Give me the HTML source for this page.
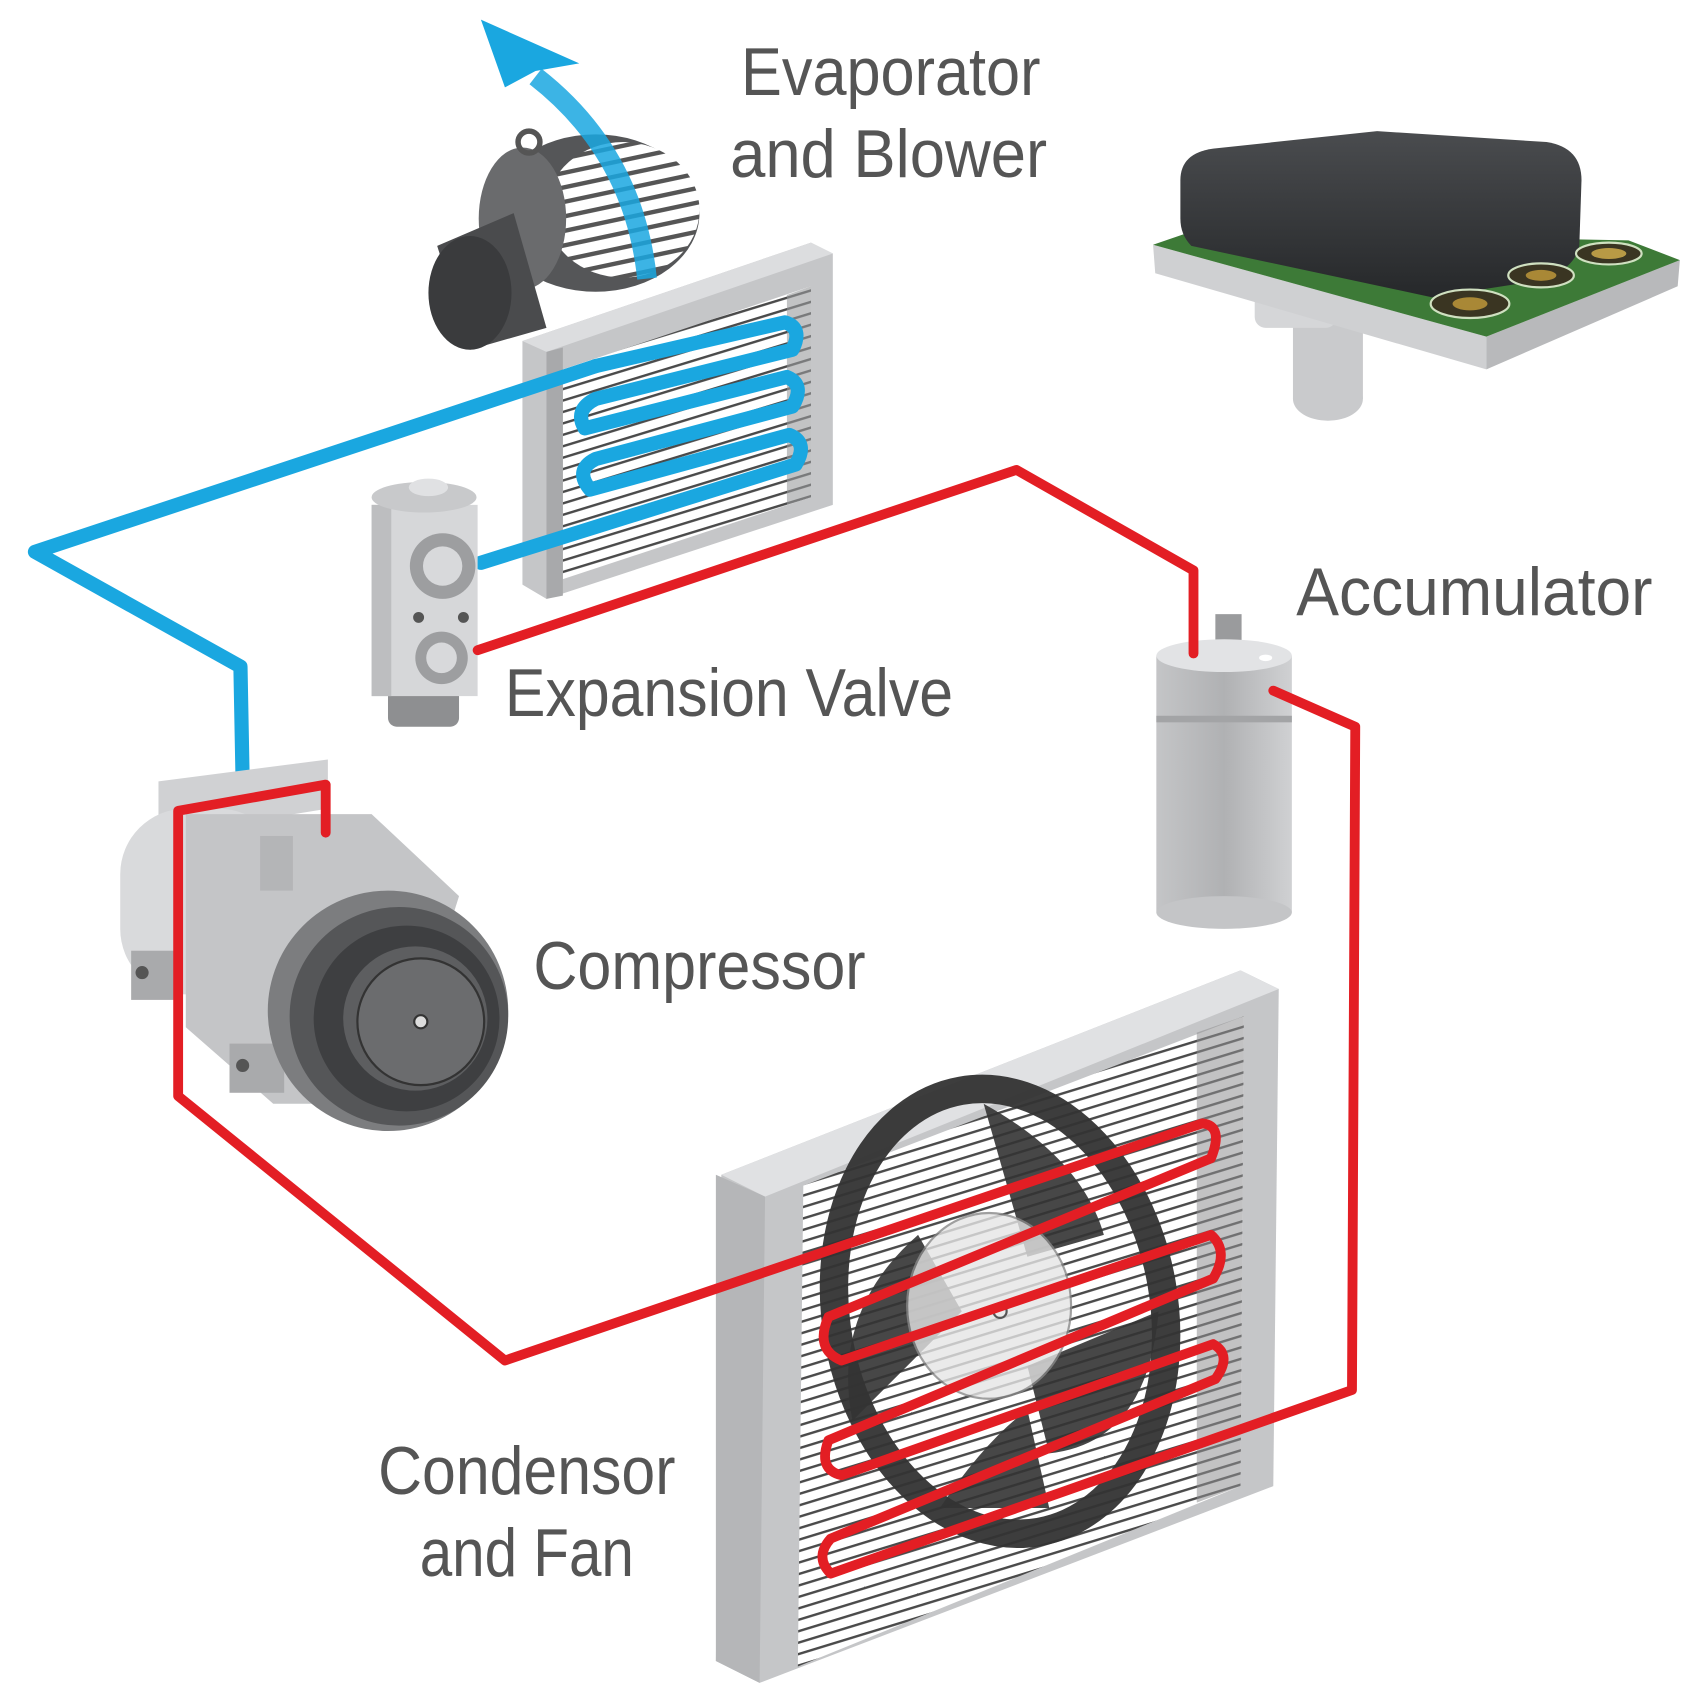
<!DOCTYPE html>
<html><head><meta charset="utf-8"><style>
html,body{margin:0;padding:0;background:#fff}
svg{display:block}
text{font-family:"Liberation Sans Narrow","Liberation Sans",sans-serif;fill:#555;font-size:62px}
</style></head><body>
<svg width="1705" height="1696" viewBox="0 0 1560 1552" preserveAspectRatio="none" xmlns="http://www.w3.org/2000/svg">
<defs>
<linearGradient id="blk" x1="0" y1="0" x2="0" y2="1"><stop offset="0" stop-color="#4a4c4f"/><stop offset="1" stop-color="#26282a"/></linearGradient>
<linearGradient id="acc" x1="0" y1="0" x2="1" y2="0"><stop offset="0" stop-color="#c4c5c7"/><stop offset="0.5" stop-color="#b0b1b3"/><stop offset="1" stop-color="#d0d1d3"/></linearGradient>
<pattern id="fins" width="10" height="10" patternUnits="userSpaceOnUse" patternTransform="rotate(-17)"><rect width="10" height="10" fill="#fff"/><rect y="0" width="10" height="2.2" fill="#4a4a4a"/></pattern>
<pattern id="fins2" width="14" height="13" patternUnits="userSpaceOnUse" patternTransform="rotate(-12)"><rect width="14" height="13" fill="#fff"/><rect y="0" width="14" height="4" fill="#555"/></pattern>
</defs>

<!-- Sensor -->
<rect x="1183" y="270" width="64" height="95" fill="#c9cacc"/>
<ellipse cx="1215" cy="365" rx="32" ry="20" fill="#c9cacc"/>
<rect x="1148" y="265" width="75" height="35" rx="10" fill="#d5d6d8"/>
<polygon points="1055,224 1360,308 1360,338 1057,250" fill="#cfd0d2"/>
<polygon points="1360,308 1537,238 1535,262 1360,338" fill="#b8b9bb"/>
<polygon points="1055,224 1090,212 1490,220 1537,238 1360,308" fill="#3d7a37"/>
<path d="M1080,165 Q1080,140 1110,136 L1260,120 L1415,130 Q1447,135 1447,165 L1445,225 Q1440,250 1400,258 L1310,272 L1090,225 Q1080,215 1080,200 Z" fill="url(#blk)"/>
<ellipse cx="1472" cy="232" rx="30" ry="10" fill="#3a3522" stroke="#cfe0c0" stroke-width="2"/>
<ellipse cx="1472" cy="232" rx="16" ry="5" fill="#b89a45"/>
<ellipse cx="1410" cy="252" rx="30" ry="11" fill="#3a3522" stroke="#cfe0c0" stroke-width="2"/>
<ellipse cx="1410" cy="252" rx="14" ry="5" fill="#a98836"/>
<ellipse cx="1345" cy="278" rx="36" ry="13" fill="#3a3522" stroke="#cfe0c0" stroke-width="2"/>
<ellipse cx="1345" cy="278" rx="16" ry="6" fill="#a98836"/>

<!-- Blower -->
<ellipse cx="545" cy="195" rx="95" ry="72" fill="#555658"/>
<ellipse cx="570" cy="192" rx="70" ry="62" fill="url(#fins2)"/>
<ellipse cx="478" cy="200" rx="40" ry="65" fill="#6a6b6d"/>
<path d="M400,225 L470,195 L500,300 L430,320 Z" fill="#4a4b4d"/>
<ellipse cx="430" cy="268" rx="38" ry="52" fill="#3a3b3d"/>
<circle cx="484" cy="130" r="10" fill="none" stroke="#555" stroke-width="5"/>
<!-- blue air arrow -->
<path d="M592,255 Q580,140 490,70" fill="none" stroke="#1aa7e0" stroke-width="18" opacity="0.85"/>
<polygon points="440,18 530,58 490,65 462,80" fill="#1aa7e0"/>

<!-- Evaporator -->
<polygon points="478,312 742,222 762,232 762,462 500,548 478,535" fill="#c5c6c8"/>
<polygon points="478,312 742,222 762,232 500,322" fill="#dcdddf"/>
<polygon points="515,338 742,262 742,455 515,530" fill="url(#fins)"/>
<polygon points="720,270 742,262 742,455 720,462" fill="#9a9b9d" opacity="0.6"/>
<polygon points="500,322 515,318 515,545 500,548" fill="#a8a9ab"/>

<!-- Blue lines -->
<g fill="none" stroke="#1aa7e0" stroke-width="13" stroke-linejoin="round" stroke-linecap="round">
<path d="M222,715 L220,610 L32,505 L545,335"/>
<path d="M545,335 L718,295 Q735,300 725,320 L545,365 Q525,375 535,392 L720,345 Q737,352 725,372 L545,420 Q525,430 540,448 L722,398 Q740,405 728,425 L440,515"/>
</g>

<!-- Expansion valve -->
<rect x="355" y="600" width="65" height="65" rx="8" fill="#8e8f91"/>
<rect x="340" y="462" width="97" height="175" fill="#d6d7d9"/>
<rect x="340" y="462" width="18" height="175" fill="#bdbec0"/>
<ellipse cx="388" cy="455" rx="48" ry="14" fill="#c8c9cb"/>
<ellipse cx="392" cy="446" rx="18" ry="8" fill="#e0e1e3"/>
<circle cx="405" cy="518" r="30" fill="#9d9ea0"/><circle cx="405" cy="518" r="18" fill="#d8d9db"/>
<circle cx="404" cy="602" r="24" fill="#9d9ea0"/><circle cx="404" cy="602" r="14" fill="#d8d9db"/>
<circle cx="383" cy="565" r="5" fill="#555"/><circle cx="424" cy="565" r="5" fill="#555"/>

<!-- Accumulator -->
<rect x="1112" y="562" width="24" height="38" fill="#9a9b9d"/>
<rect x="1058" y="600" width="124" height="235" fill="url(#acc)"/>
<ellipse cx="1120" cy="835" rx="62" ry="15" fill="#c4c5c7"/>
<ellipse cx="1120" cy="600" rx="62" ry="15" fill="#e2e3e5"/>
<rect x="1058" y="655" width="124" height="6" fill="#a3a4a6"/>
<ellipse cx="1158" cy="602" rx="6" ry="3" fill="#fff"/>

<!-- Compressor -->
<polygon points="145,715 300,695 300,740 145,765" fill="#d0d1d3"/>
<rect x="110" y="740" width="150" height="170" rx="60" fill="#d9dadc"/>
<polygon points="170,745 340,745 420,820 360,1010 250,1010 170,940" fill="#c4c5c7"/>
<rect x="238" y="765" width="30" height="50" fill="#b4b5b7"/>
<rect x="120" y="870" width="40" height="45" fill="#a9aaac"/><circle cx="130" cy="890" r="6" fill="#555"/>
<rect x="210" y="955" width="50" height="45" fill="#a9aaac"/><circle cx="222" cy="975" r="6" fill="#555"/>
<circle cx="355" cy="925" r="110" fill="#7c7d7f"/>
<circle cx="365" cy="930" r="100" fill="#555658"/>
<circle cx="372" cy="932" r="85" fill="#3e3f41"/>
<circle cx="380" cy="932" r="66" fill="#5d5e60"/>
<circle cx="385" cy="935" r="58" fill="#6b6c6e" stroke="#333" stroke-width="2"/>
<circle cx="385" cy="935" r="6" fill="#ddd" stroke="#333" stroke-width="2"/>

<!-- Condenser -->
<polygon points="660,1075 1135,888 1170,905 1165,1360 695,1540 655,1520" fill="#c5c6c8"/>
<polygon points="660,1075 1135,888 1170,905 700,1095" fill="#e0e1e3"/>
<polygon points="735,1085 1138,930 1135,1360 730,1525" fill="url(#fins)"/>
<polygon points="655,1075 700,1095 695,1540 655,1520" fill="#b5b6b8"/>
<polygon points="1095,945 1138,930 1135,1360 1095,1375" fill="#8f9092" opacity="0.55"/>
<!-- fan -->
<g fill="none" stroke="#333" stroke-width="26" opacity="0.95">
<ellipse cx="915" cy="1200" rx="150" ry="205" transform="rotate(-10 915 1200)"/>
</g>
<path d="M900,1010 Q990,1060 1010,1130 L940,1150 Z M1060,1200 Q1050,1320 960,1330 L940,1250 Z M780,1300 Q760,1200 840,1130 L880,1200 Z M860,1380 Q900,1320 940,1290 L960,1380 Z" fill="#333" opacity="0.9"/>
<ellipse cx="905" cy="1195" rx="75" ry="85" fill="#e5e5e5" opacity="0.8" stroke="#888" stroke-width="2"/>
<circle cx="915" cy="1200" r="6" fill="none" stroke="#555" stroke-width="2"/>

<!-- Red lines -->
<g fill="none" stroke="#e31e24" stroke-width="9" stroke-linejoin="round" stroke-linecap="round">
<path d="M437,595 L930,430 L1092,522 L1092,598"/>
<path d="M1165,632 L1240,665 L1237,1272 L760,1440 Q745,1425 760,1408 L1112,1262 Q1128,1240 1110,1230 L770,1350 Q748,1345 758,1318 L1110,1170 Q1125,1145 1108,1130 L770,1245 Q745,1235 758,1205 L1108,1060 Q1120,1030 1100,1028 L462,1245 L163,1003 L163,742 L298,718 L298,762"/>
</g>

<!-- Labels -->
<text x="678" y="87" textLength="274" lengthAdjust="spacingAndGlyphs">Evaporator</text>
<text x="668" y="162" textLength="290" lengthAdjust="spacingAndGlyphs">and Blower</text>
<text x="1186" y="563" textLength="326" lengthAdjust="spacingAndGlyphs">Accumulator</text>
<text x="462" y="655" textLength="410" lengthAdjust="spacingAndGlyphs">Expansion Valve</text>
<text x="488" y="905" textLength="304" lengthAdjust="spacingAndGlyphs">Compressor</text>
<text x="346" y="1367" textLength="272" lengthAdjust="spacingAndGlyphs">Condensor</text>
<text x="384" y="1442" textLength="196" lengthAdjust="spacingAndGlyphs">and Fan</text>
</svg>
</body></html>
